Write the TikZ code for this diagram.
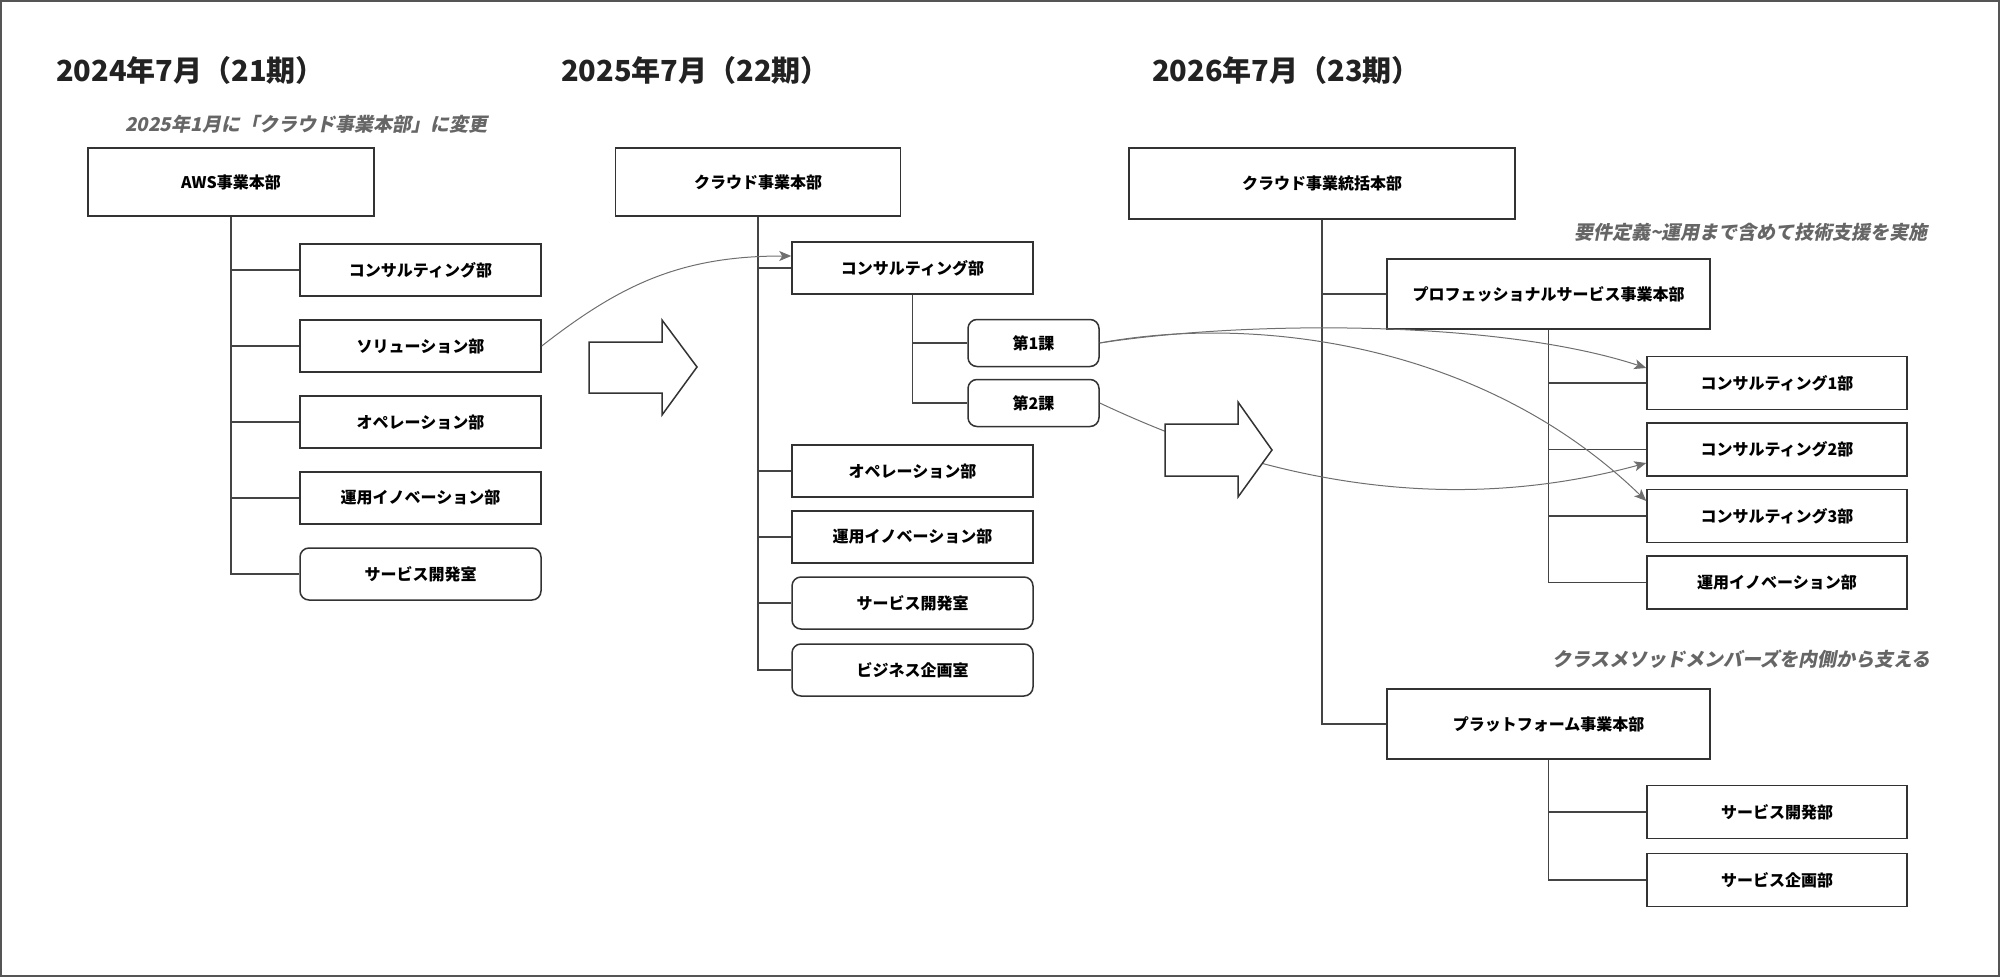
\documentclass[tikz,border=0pt]{standalone}
\usepackage{fontspec}
\setmainfont{Noto Sans CJK JP}
\newfontfamily\jpsl{Noto Sans CJK JP}[FakeSlant=0.2]
\usetikzlibrary{arrows.meta}
\definecolor{bd}{HTML}{333333}
\definecolor{treec}{HTML}{444444}
\definecolor{linkc}{HTML}{6E6E6E}
\definecolor{titlec}{HTML}{222222}
\definecolor{notec}{HTML}{666666}
\definecolor{framec}{HTML}{555555}
\begin{document}
\begin{tikzpicture}[x=1pt,y=-1pt,
  box/.style={draw=bd, line width=1.5pt, fill=white, inner sep=0pt,
    font=\bfseries\fontsize{16}{19}\selectfont, text=black},
  rbox/.style={box, rounded corners=9pt},
  w1/.style={minimum width=241pt, minimum height=52pt},
  w3/.style={minimum width=260pt, minimum height=53pt},
  tree/.style={draw=treec, line width=1.1pt},
  link/.style={draw=linkc, line width=1pt, -{Stealth[length=12pt,width=10pt,inset=3pt]}},
  bigarrow/.style={draw=bd, line width=1.5pt, fill=white, line join=miter},
  title/.style={font=\bfseries\fontsize{29}{34}\selectfont, text=titlec, anchor=west, inner sep=0pt},
  note/.style={font=\jpsl\bfseries\fontsize{19}{23}\selectfont, text=notec, inner sep=0pt}]
\useasboundingbox (0,0) rectangle (2000,977);
\draw[draw=framec, line width=2pt] (1,1) rectangle (1999,976);

% titles
\node[title] (t1) at (56,70) {2024年7月（21期）};
\node[title] (t2) at (561,70) {2025年7月（22期）};
\node[title] (t3) at (1152,70) {2026年7月（23期）};
\node[note, anchor=west] (n1) at (125,124) {2025年1月に「クラウド事業本部」に変更};
\node[note, anchor=east] (n2) at (1928,232) {要件定義\textasciitilde 運用まで含めて技術支援を実施};
\node[note, anchor=east] (n3) at (1931,659) {クラスメソッドメンバーズを内側から支える};

% column 1
\node[box, minimum width=286pt, minimum height=68pt] (aws) at (231,182) {AWS事業本部};
\node[box, w1] (c1a) at (420.5,270) {コンサルティング部};
\node[box, w1] (c1b) at (420.5,346) {ソリューション部};
\node[box, w1] (c1c) at (420.5,422) {オペレーション部};
\node[box, w1] (c1d) at (420.5,498) {運用イノベーション部};
\node[rbox, w1] (c1e) at (420.5,574) {サービス開発室};
\draw[tree] (aws.south) -- (aws.south |- c1e.west) -- (c1e.west);
\foreach \n in {c1a,c1b,c1c,c1d} \draw[tree] (aws.south |- \n.west) -- (\n.west);

% column 2
\node[box, minimum width=285pt, minimum height=68pt] (cloud) at (758,182) {クラウド事業本部};
\node[box, w1] (c2a) at (912.5,268) {コンサルティング部};
\node[box, w1] (c2c) at (912.5,471) {オペレーション部};
\node[box, w1] (c2d) at (912.5,537) {運用イノベーション部};
\node[rbox, w1] (c2e) at (912.5,603) {サービス開発室};
\node[rbox, w1] (c2f) at (912.5,670) {ビジネス企画室};
\node[rbox, minimum width=131pt, minimum height=47pt] (k1) at (1033.5,343) {第1課};
\node[rbox, minimum width=131pt, minimum height=47pt] (k2) at (1033.5,403) {第2課};
\draw[tree] (cloud.south) -- (cloud.south |- c2f.west) -- (c2f.west);
\foreach \n in {c2a,c2c,c2d,c2e} \draw[tree] (cloud.south |- \n.west) -- (\n.west);
\draw[tree] (c2a.south) -- (c2a.south |- k2.west) -- (k2.west);
\draw[tree] (c2a.south |- k1.west) -- (k1.west);

% column 3
\node[box, minimum width=386pt, minimum height=71pt] (top) at (1322,183.5) {クラウド事業統括本部};
\node[box, minimum width=323pt, minimum height=70pt] (ps) at (1548.5,294) {プロフェッショナルサービス事業本部};
\node[box, w3] (k31) at (1777,383) {コンサルティング1部};
\node[box, w3] (k32) at (1777,449.5) {コンサルティング2部};
\node[box, w3] (k33) at (1777,516) {コンサルティング3部};
\node[box, w3] (u3) at (1777,582.5) {運用イノベーション部};
\node[box, minimum width=323pt, minimum height=70pt] (pf) at (1548.5,724) {プラットフォーム事業本部};
\node[box, w3] (sd) at (1777,812) {サービス開発部};
\node[box, w3] (sp) at (1777,880) {サービス企画部};
\draw[tree] (top.south) -- (top.south |- pf.west) -- (pf.west);
\draw[tree] (top.south |- ps.west) -- (ps.west);
\draw[tree] (ps.south) -- (ps.south |- u3.west) -- (u3.west);
\foreach \n in {k31,k32,k33} \draw[tree] (ps.south |- \n.west) -- (\n.west);
\draw[tree] (pf.south) -- (pf.south |- sp.west) -- (sp.west);
\draw[tree] (pf.south |- sd.west) -- (sd.west);

% connectors
\draw[link] (c1b.east) .. controls (620,285) and (680,256) .. ([yshift=12pt]c2a.west);
\draw[link] (k1.east) .. controls (1250,320) and (1500,320) .. ([yshift=15pt]k31.west);
\draw[link] (k1.east) .. controls (1250,315) and (1480,340) .. ([yshift=15pt]k33.west);
\draw[link] (k2.east) .. controls (1200,450) and (1400,530) .. ([yshift=-13.5pt]k32.west);

% big arrows
\draw[bigarrow] (589,342) -- (662,342) -- (662,320) -- (697,367) -- (662,415) -- (662,393) -- (589,393) -- cycle;
\draw[bigarrow] (1165,424) -- (1238,424) -- (1238,402) -- (1272,450) -- (1238,497) -- (1238,476) -- (1165,476) -- cycle;
\end{tikzpicture}
\end{document}
